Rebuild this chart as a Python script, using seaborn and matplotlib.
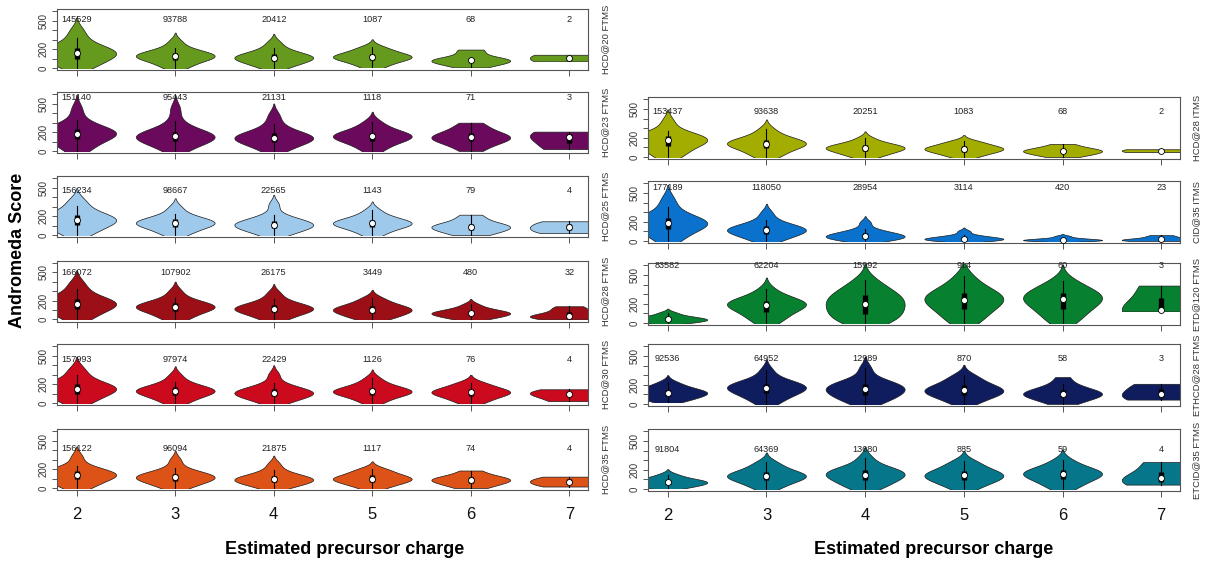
import numpy as np
import matplotlib
matplotlib.use("Agg")
import matplotlib.pyplot as plt
import matplotlib.cbook as cbook
from matplotlib.patches import Rectangle
import seaborn as sns

plt.rcParams["font.family"] = ["Liberation Sans", "DejaVu Sans"]

charges = [2, 3, 4, 5, 6, 7]

# ---------------- left column ----------------
hcd20_ftms_counts = [145529, 93788, 20412, 1087, 68, 2]
hcd20_ftms_scores = [
    [0, 25, 60, 90, 110, 130, 145, 158, 170, 185, 200, 220, 255, 320, 400],
    [0, 30, 60, 85, 100, 112, 122, 130, 140, 152, 165, 185, 215, 280],
    [0, 25, 50, 70, 85, 97, 106, 115, 125, 137, 152, 175, 210, 270],
    [5, 35, 60, 80, 95, 105, 113, 120, 130, 140, 155, 175, 200, 225],
    [5, 35, 55, 70, 80, 88, 95, 105, 175, 195],
    [70, 140],
]

hcd23_ftms_counts = [151140, 95443, 21131, 1118, 71, 3]
hcd23_ftms_scores = [
    [0, 35, 80, 115, 140, 160, 175, 185, 195, 208, 222, 240, 270, 330, 450],
    [0, 40, 75, 100, 118, 132, 145, 155, 165, 177, 192, 212, 245, 320, 450],
    [0, 35, 65, 90, 108, 120, 132, 142, 152, 163, 178, 198, 230, 290, 380],
    [0, 45, 80, 105, 122, 137, 150, 160, 170, 183, 200, 222, 260, 310],
    [0, 45, 80, 105, 120, 135, 145, 155, 170, 190, 220, 260, 300],
    [20, 145, 205],
]

hcd25_ftms_counts = [156234, 98667, 22565, 1143, 79, 4]
hcd25_ftms_scores = [
    [0, 30, 65, 95, 115, 132, 148, 160, 172, 185, 200, 220, 255, 310, 370],
    [0, 30, 60, 85, 100, 113, 123, 132, 142, 155, 170, 190, 225, 290],
    [0, 25, 50, 70, 85, 97, 106, 115, 126, 138, 155, 178, 215, 320],
    [0, 35, 65, 85, 100, 112, 120, 128, 137, 150, 165, 185, 215, 265],
    [0, 20, 45, 65, 78, 88, 97, 110, 130, 175, 215],
    [20, 60, 100, 145],
]

hcd28_ftms_counts = [166072, 107902, 26175, 3449, 480, 32]
hcd28_ftms_scores = [
    [0, 30, 70, 100, 120, 140, 155, 167, 178, 190, 205, 225, 260, 320, 390],
    [0, 30, 60, 90, 105, 118, 128, 138, 148, 160, 175, 195, 230, 300],
    [0, 25, 55, 75, 90, 102, 112, 120, 130, 142, 158, 180, 215, 280],
    [0, 20, 40, 60, 75, 88, 98, 108, 118, 130, 145, 165, 195, 230],
    [0, 15, 30, 42, 52, 60, 66, 73, 82, 92, 105, 125, 160],
    [0, 10, 20, 30, 38, 45, 60, 90, 120, 140],
]

hcd30_ftms_counts = [157993, 97974, 22429, 1126, 76, 4]
hcd30_ftms_scores = [
    [0, 25, 60, 90, 110, 128, 142, 152, 163, 176, 190, 210, 245, 300, 365],
    [0, 30, 60, 85, 100, 113, 123, 132, 142, 155, 170, 190, 225, 290],
    [0, 25, 50, 70, 85, 95, 104, 113, 124, 136, 152, 175, 210, 300],
    [0, 35, 65, 85, 100, 110, 118, 126, 135, 148, 163, 185, 215, 265],
    [0, 30, 60, 80, 95, 108, 118, 128, 140, 160, 190, 215],
    [20, 85, 105, 145],
]

hcd35_ftms_counts = [156122, 96094, 21875, 1117, 74, 4]
hcd35_ftms_scores = [
    [0, 25, 55, 85, 105, 120, 132, 142, 152, 165, 180, 200, 235, 330],
    [0, 25, 50, 72, 88, 100, 110, 118, 128, 140, 155, 175, 210, 295],
    [0, 20, 40, 58, 70, 80, 88, 96, 106, 118, 133, 155, 190, 255],
    [0, 20, 45, 62, 75, 85, 93, 102, 112, 125, 140, 160, 185, 205],
    [0, 25, 50, 68, 80, 90, 100, 115, 140, 185],
    [15, 55, 80, 120],
]

# ---------------- right column ----------------
hcd28_itms_counts = [153437, 93638, 20251, 1083, 68, 2]
hcd28_itms_scores = [
    [0, 30, 70, 105, 130, 150, 165, 178, 190, 202, 218, 238, 270, 370],
    [0, 30, 60, 90, 108, 122, 133, 143, 153, 165, 180, 200, 235, 290],
    [0, 20, 42, 60, 72, 83, 92, 100, 110, 120, 135, 155, 195],
    [0, 20, 40, 55, 67, 76, 84, 92, 100, 112, 128, 150, 165],
    [0, 20, 35, 48, 58, 66, 74, 85, 105, 135],
    [50, 80],
]

cid35_itms_counts = [177189, 118050, 28954, 3114, 420, 23]
cid35_itms_scores = [
    [0, 35, 80, 115, 140, 158, 172, 185, 197, 210, 225, 245, 280, 350, 440],
    [0, 25, 50, 72, 88, 100, 110, 120, 130, 142, 158, 180, 215, 290],
    [0, 10, 22, 32, 40, 47, 54, 62, 72, 85, 100, 125, 190],
    [0, 5, 10, 15, 20, 25, 30, 38, 48, 62, 100],
    [0, 2, 5, 8, 12, 16, 22, 30, 50],
    [0, 3, 6, 10, 15, 20, 30, 45, 60],
]

etd120_ftms_counts = [83582, 62204, 15992, 914, 60, 3]
etd120_ftms_scores = [
    [0, 10, 20, 28, 35, 42, 50, 60, 75, 105],
    [0, 40, 80, 110, 135, 160, 178, 192, 205, 218, 232, 252, 285, 350],
    [0, 20, 50, 80, 110, 140, 170, 195, 220, 250, 275, 300, 335, 380, 450],
    [0, 40, 90, 130, 165, 195, 220, 240, 258, 278, 300, 325, 360, 410, 490],
    [0, 60, 110, 150, 190, 220, 245, 265, 285, 310, 340, 380, 440],
    [120, 130, 390],
]

ethcd28_ftms_counts = [92536, 64952, 12989, 870, 58, 3]
ethcd28_ftms_scores = [
    [25, 45, 65, 80, 95, 105, 115, 125, 135, 148, 165, 190, 225],
    [0, 45, 80, 105, 125, 145, 160, 172, 185, 198, 212, 232, 265, 350],
    [0, 35, 65, 85, 105, 125, 145, 160, 175, 190, 208, 228, 262, 370],
    [0, 40, 70, 90, 108, 122, 135, 148, 162, 178, 198, 225, 265, 300],
    [0, 30, 55, 75, 90, 100, 108, 118, 132, 150, 175, 210, 280],
    [45, 107, 210],
]

etcid35_ftms_counts = [91804, 64369, 13680, 885, 59, 4]
etcid35_ftms_scores = [
    [10, 25, 40, 52, 62, 70, 78, 88, 100, 118, 150],
    [0, 35, 65, 88, 105, 118, 130, 140, 152, 165, 182, 205, 245, 280],
    [0, 30, 60, 85, 105, 125, 142, 155, 168, 182, 198, 218, 250, 325],
    [0, 35, 65, 88, 105, 120, 135, 148, 160, 175, 195, 220, 260, 290],
    [0, 40, 75, 100, 120, 140, 155, 168, 180, 195, 215, 250, 300],
    [45, 80, 140, 280],
]

left_labels = ["HCD@20 FTMS", "HCD@23 FTMS", "HCD@25 FTMS", "HCD@28 FTMS", "HCD@30 FTMS", "HCD@35 FTMS"]
left_colors = ["#669A1E", "#6B0A5C", "#9FC9EA", "#9C0F17", "#CC0A1E", "#DD5216"]
left_scores = [hcd20_ftms_scores, hcd23_ftms_scores, hcd25_ftms_scores,
               hcd28_ftms_scores, hcd30_ftms_scores, hcd35_ftms_scores]
left_counts = [hcd20_ftms_counts, hcd23_ftms_counts, hcd25_ftms_counts,
               hcd28_ftms_counts, hcd30_ftms_counts, hcd35_ftms_counts]

right_labels = ["HCD@28 ITMS", "CID@35 ITMS", "ETD@120 FTMS", "ETHCD@28 FTMS", "ETCID@35 FTMS"]
right_colors = ["#A3AD00", "#0A72CC", "#07802F", "#0F1D5E", "#06778A"]
right_scores = [hcd28_itms_scores, cid35_itms_scores, etd120_ftms_scores,
                ethcd28_ftms_scores, etcid35_ftms_scores]
right_counts = [hcd28_itms_counts, cid35_itms_counts, etd120_ftms_counts,
                ethcd28_ftms_counts, etcid35_ftms_counts]

# small groups that are still drawn with a tapering upper tail (style)
tapered_small = [("HCD@30 FTMS", 6), ("ETD@120 FTMS", 6), ("ETCID@35 FTMS", 6)]

# ---------------- layout (pixels) ----------------
W, H = 1207, 563
fig = plt.figure(figsize=(W / 100, H / 100), dpi=100)


def add_ax(x0, top, w, h):
    return fig.add_axes([x0 / W, 1 - (top + h) / H, w / W, h / H])


SPINE = "#555555"
XLIM = (1.8, 7.19)
YLIM = (-22, 626)


def draw_panel(ax, name, scores, counts, color, bottom):
    tops = []
    for c, s, n in zip(charges, scores, counts):
        vals = np.asarray(s, float)
        taper = n >= 400 or (name, c) in tapered_small
        sns.violinplot(x=np.full(len(vals), c), y=vals, native_scale=True, orient="x",
                       color=color, saturation=1, inner=None, density_norm="width",
                       cut=2.2 if taper else 0, bw_adjust=1.0, width=0.8,
                       linewidth=0.5, linecolor="#1a1a1a", ax=ax)
        poly = ax.collections[-1]
        # flat base at the smallest observation (as in R's vioplot), kept inside the panel
        clip = Rectangle((XLIM[0], vals.min()), XLIM[1] - XLIM[0], YLIM[1] - vals.min(),
                         transform=ax.transData)
        poly.set_clip_path(clip)
        v = poly.get_paths()[0].vertices
        vis = v[np.abs(v[:, 0] - c) > 0.01]
        tops.append(vis[:, 1].max() if len(vis) else vals.max())

        st = cbook.boxplot_stats(vals)[0]
        ax.plot([c, c], [st["whislo"], st["whishi"]], color="black", lw=0.8, zorder=3)
        ax.plot([c, c], [st["q1"], st["q3"]], color="black", lw=3.8,
                solid_capstyle="butt", zorder=4)
        ax.plot(c, st["med"], "o", ms=4.3, mfc="white", mec="black", mew=0.6, zorder=5)
    ytxt = min(max(tops), 600)
    for c, n in zip(charges, counts):
        ax.text(c, ytxt, str(n), ha="center", va="center", fontsize=6.6, color="#222222",
                zorder=6)
    ax.set_xlim(*XLIM)
    ax.set_ylim(*YLIM)
    ax.set_xticks(charges)
    ax.set_yticks(np.arange(0, 700, 100))
    ax.set_yticklabels(["0", "", "200", "", "", "500", ""], rotation=90, va="center")
    if bottom:
        ax.set_xticklabels([str(c) for c in charges])
    else:
        ax.set_xticklabels([])
    ax.tick_params(axis="y", length=3.5, width=0.7, colors=SPINE, labelcolor="#333333",
                   labelsize=6.9, pad=2.5)
    ax.tick_params(axis="x", length=4.5, width=0.7, colors=SPINE, labelcolor="#111111",
                   labelsize=12, pad=8)
    for sp in ax.spines.values():
        sp.set_color(SPINE)
        sp.set_linewidth(0.8)
    ax.set_xlabel("")
    ax.set_ylabel("")


left_tops = [9, 92, 176, 260.5, 344, 429]
for i in range(6):
    ax = add_ax(57, left_tops[i], 531, 61)
    draw_panel(ax, left_labels[i], left_scores[i], left_counts[i], left_colors[i], i == 5)
    fig.text(606 / W, 1 - (left_tops[i] + 30.5) / H, left_labels[i], rotation=90,
             ha="center", va="center", fontsize=6.8, color="#333333")

right_tops = [97, 181, 263, 344, 429]
for i in range(5):
    ax = add_ax(648, right_tops[i], 532, 62)
    draw_panel(ax, right_labels[i], right_scores[i], right_counts[i], right_colors[i], i == 4)
    fig.text(1197 / W, 1 - (right_tops[i] + 31) / H, right_labels[i], rotation=90,
             ha="center", va="center", fontsize=6.8, color="#333333")

fig.text(345 / W, 1 - 549 / H, "Estimated precursor charge", ha="center", va="center",
         fontsize=13, fontweight="bold")
fig.text(934 / W, 1 - 549 / H, "Estimated precursor charge", ha="center", va="center",
         fontsize=13, fontweight="bold")
fig.text(18 / W, 1 - 250 / H, "Andromeda Score", rotation=90, ha="center", va="center",
         fontsize=13, fontweight="bold")

fig.savefig("out.png", dpi=100)
